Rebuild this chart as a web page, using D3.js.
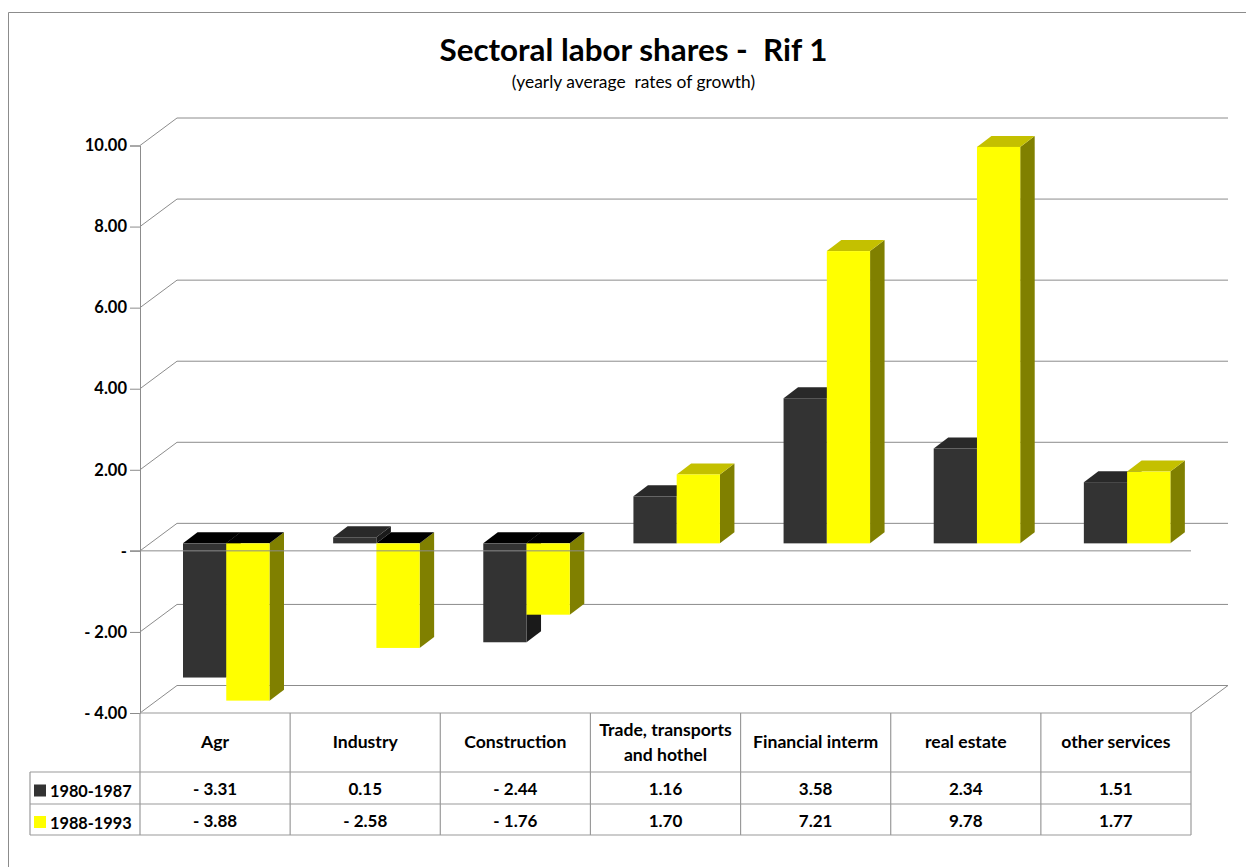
<!DOCTYPE html>
<html>
<head>
<meta charset="utf-8">
<title>Sectoral labor shares</title>
<script src="https://cdnjs.cloudflare.com/ajax/libs/d3/7.8.5/d3.min.js"></script>
<style>
	html, body { margin: 0; padding: 0; background: #fff; overflow: hidden; }
	svg { display: block; }
	text { font-family: Lato, "Open Sans", sans-serif; fill: #000; }
	.bold { font-weight: 700; }
</style>
</head>
<body>
<script>
//chart data
var categories = ["Agr", "Industry", "Construction", "Trade, transports|and hothel", "Financial interm", "real estate", "other services"];
var seriesNames = ["1980-1987", "1988-1993"];
var values1980 = [-3.31, 0.15, -2.44, 1.16, 3.58, 2.34, 1.51];
var values1988 = [-3.88, -2.58, -1.76, 1.70, 7.21, 9.78, 1.77];
var yTicks = [-4, -2, 0, 2, 4, 6, 8, 10];

//palette for each series: front, side, top when positive, top when negative
var palette = [
	{front: "#333333", side: "#1a1a1a", top: "#292929", under: "#000000"},
	{front: "#ffff00", side: "#808000", top: "#c4c000", under: "#000000"}
];

var width = 1246,
	height = 867;

//plot box and 3d offsets
var left = 140,
	right = 1191,
	top3d = 145.5,
	bottom3d = 713,
	wallDx = 37,
	wallDy = -27.5,
	barDx = 14.5,
	barDy = -11,
	barShiftY = -7.5;

var svg = d3.select("body")
	.append("svg")
	.attr("width", width)
	.attr("height", height);

var y = d3.scaleLinear()
	.domain([-4, 10])
	.range([bottom3d, top3d]);

var x = d3.scaleBand()
	.domain(d3.range(categories.length))
	.range([left, right]);

var xSeries = d3.scaleBand()
	.domain([0, 1])
	.range([43, 129.5]);

function fmt(v){
	if (v === 0) return "-";
	return (v < 0 ? "- " : "") + d3.format(".2f")(Math.abs(v));
}

//outer chart frame, runs off the page right and bottom
svg.append("path")
	.attr("d", "M8.5," + height + "V12.5H" + width)
	.attr("fill", "none")
	.attr("stroke", "#8c8c8c")
	.attr("stroke-width", 1);

//title
svg.append("text")
	.attr("class", "bold")
	.attr("x", 633.5)
	.attr("y", 61)
	.attr("text-anchor", "middle")
	.attr("font-size", 31.4)
	.text("Sectoral labor shares -  Rif 1")
	.style("white-space", "pre");

svg.append("text")
	.attr("x", 633.5)
	.attr("y", 88)
	.attr("text-anchor", "middle")
	.attr("font-size", 17.4)
	.text("(yearly average  rates of growth)")
	.style("white-space", "pre");

//back wall gridlines with the diagonal down to the front
var grid = svg.append("g");
grid.selectAll(".wallLine")
	.data(yTicks)
	.enter()
	.append("path")
	.attr("class", "wallLine")
	.attr("fill", "none")
	.attr("stroke", "#8c8c8c")
	.attr("d", function(d){
		return "M" + left + "," + y(d) + "L" + (left + wallDx) + "," + (y(d) + wallDy) + "H" + (right + wallDx);
	});

//floor right edge
svg.append("line")
	.attr("x1", right).attr("y1", bottom3d)
	.attr("x2", right + wallDx).attr("y2", bottom3d + wallDy)
	.attr("stroke", "#8c8c8c");

//y axis
var axis = d3.axisLeft(y)
	.tickValues(yTicks)
	.tickSize(10)
	.tickPadding(3)
	.tickFormat(fmt);

var axisG = svg.append("g")
	.attr("transform", "translate(" + left + ",0)")
	.call(axis);
axisG.select(".domain").attr("stroke", "#8c8c8c");
axisG.selectAll(".tick line").attr("stroke", "#8c8c8c");
axisG.selectAll(".tick text")
	.attr("class", "bold")
	.attr("font-size", 16.5)
	.attr("font-family", "Lato");

//draw one 3d bar
function drawBar(g, i, s, v){
	var colors = palette[s],
		x0 = x(i) + xSeries(s),
		w = xSeries.bandwidth(),
		zero = y(0) + barShiftY,
		end = y(v) + barShiftY,
		yTop = Math.min(zero, end),
		yBot = Math.max(zero, end);

	//side face
	g.append("path")
		.attr("fill", colors.side)
		.attr("d", "M" + (x0 + w) + "," + yTop + "l" + barDx + "," + barDy + "V" + (yBot + barDy) + "l" + (-barDx) + "," + (-barDy) + "Z");
	//top face
	g.append("path")
		.attr("fill", v < 0 ? colors.under : colors.top)
		.attr("d", "M" + x0 + "," + yTop + "l" + barDx + "," + barDy + "h" + w + "l" + (-barDx) + "," + (-barDy) + "Z");
	//front face
	g.append("rect")
		.attr("fill", colors.front)
		.attr("x", x0)
		.attr("y", yTop)
		.attr("width", w)
		.attr("height", yBot - yTop);
}

var bars = svg.append("g");
categories.forEach(function(c, i){
	drawBar(bars, i, 0, values1980[i]);
	drawBar(bars, i, 1, values1988[i]);
});

//front zero line sits on top of the bars
svg.append("line")
	.attr("x1", left - 10).attr("y1", y(0))
	.attr("x2", right).attr("y2", y(0))
	.attr("stroke", "#8c8c8c");

//data table
var rowY = [bottom3d, 772, 804, 835],
	legendLeft = 30,
	tableStroke = "#9a9a9a";

var table = svg.append("g")
	.attr("fill", "none")
	.attr("stroke", tableStroke)
	.attr("stroke-width", 1.2);

table.append("line").attr("x1", left).attr("x2", right).attr("y1", rowY[0]).attr("y2", rowY[0]);
[1, 2, 3].forEach(function(r){
	table.append("line").attr("x1", legendLeft).attr("x2", right).attr("y1", rowY[r]).attr("y2", rowY[r]);
});
table.append("line").attr("x1", legendLeft).attr("x2", legendLeft).attr("y1", rowY[1]).attr("y2", rowY[3]);
d3.range(categories.length + 1).forEach(function(i){
	var px = i < categories.length ? x(i) : right;
	table.append("line").attr("x1", px).attr("x2", px).attr("y1", rowY[0]).attr("y2", rowY[3]);
});

//category labels, a | breaks the line
categories.forEach(function(c, i){
	var parts = c.split("|");
	var label = svg.append("text")
		.attr("class", "bold")
		.attr("text-anchor", "middle")
		.attr("font-size", 17.6);
	parts.forEach(function(p, k){
		label.append("tspan")
			.attr("x", x(i) + x.bandwidth() / 2)
			.attr("y", parts.length > 1 ? 736 + k * 24.5 : 748)
			.text(p);
	});
});

//table values and legend
[values1980, values1988].forEach(function(vals, s){
	var mid = (rowY[s + 1] + rowY[s + 2]) / 2;
	svg.append("rect")
		.attr("x", 34)
		.attr("y", mid - 3.5)
		.attr("width", 12)
		.attr("height", 12)
		.attr("fill", palette[s].front);
	svg.append("text")
		.attr("class", "bold")
		.attr("x", 50)
		.attr("y", mid + 9)
		.attr("font-size", 16.3)
		.text(seriesNames[s]);
	svg.selectAll(".val" + s)
		.data(vals)
		.enter()
		.append("text")
		.attr("class", "bold val" + s)
		.attr("text-anchor", "middle")
		.attr("font-size", 17)
		.attr("x", function(d, i){ return x(i) + x.bandwidth() / 2; })
		.attr("y", mid + 7)
		.text(fmt);
});
</script>
</body>
</html>
